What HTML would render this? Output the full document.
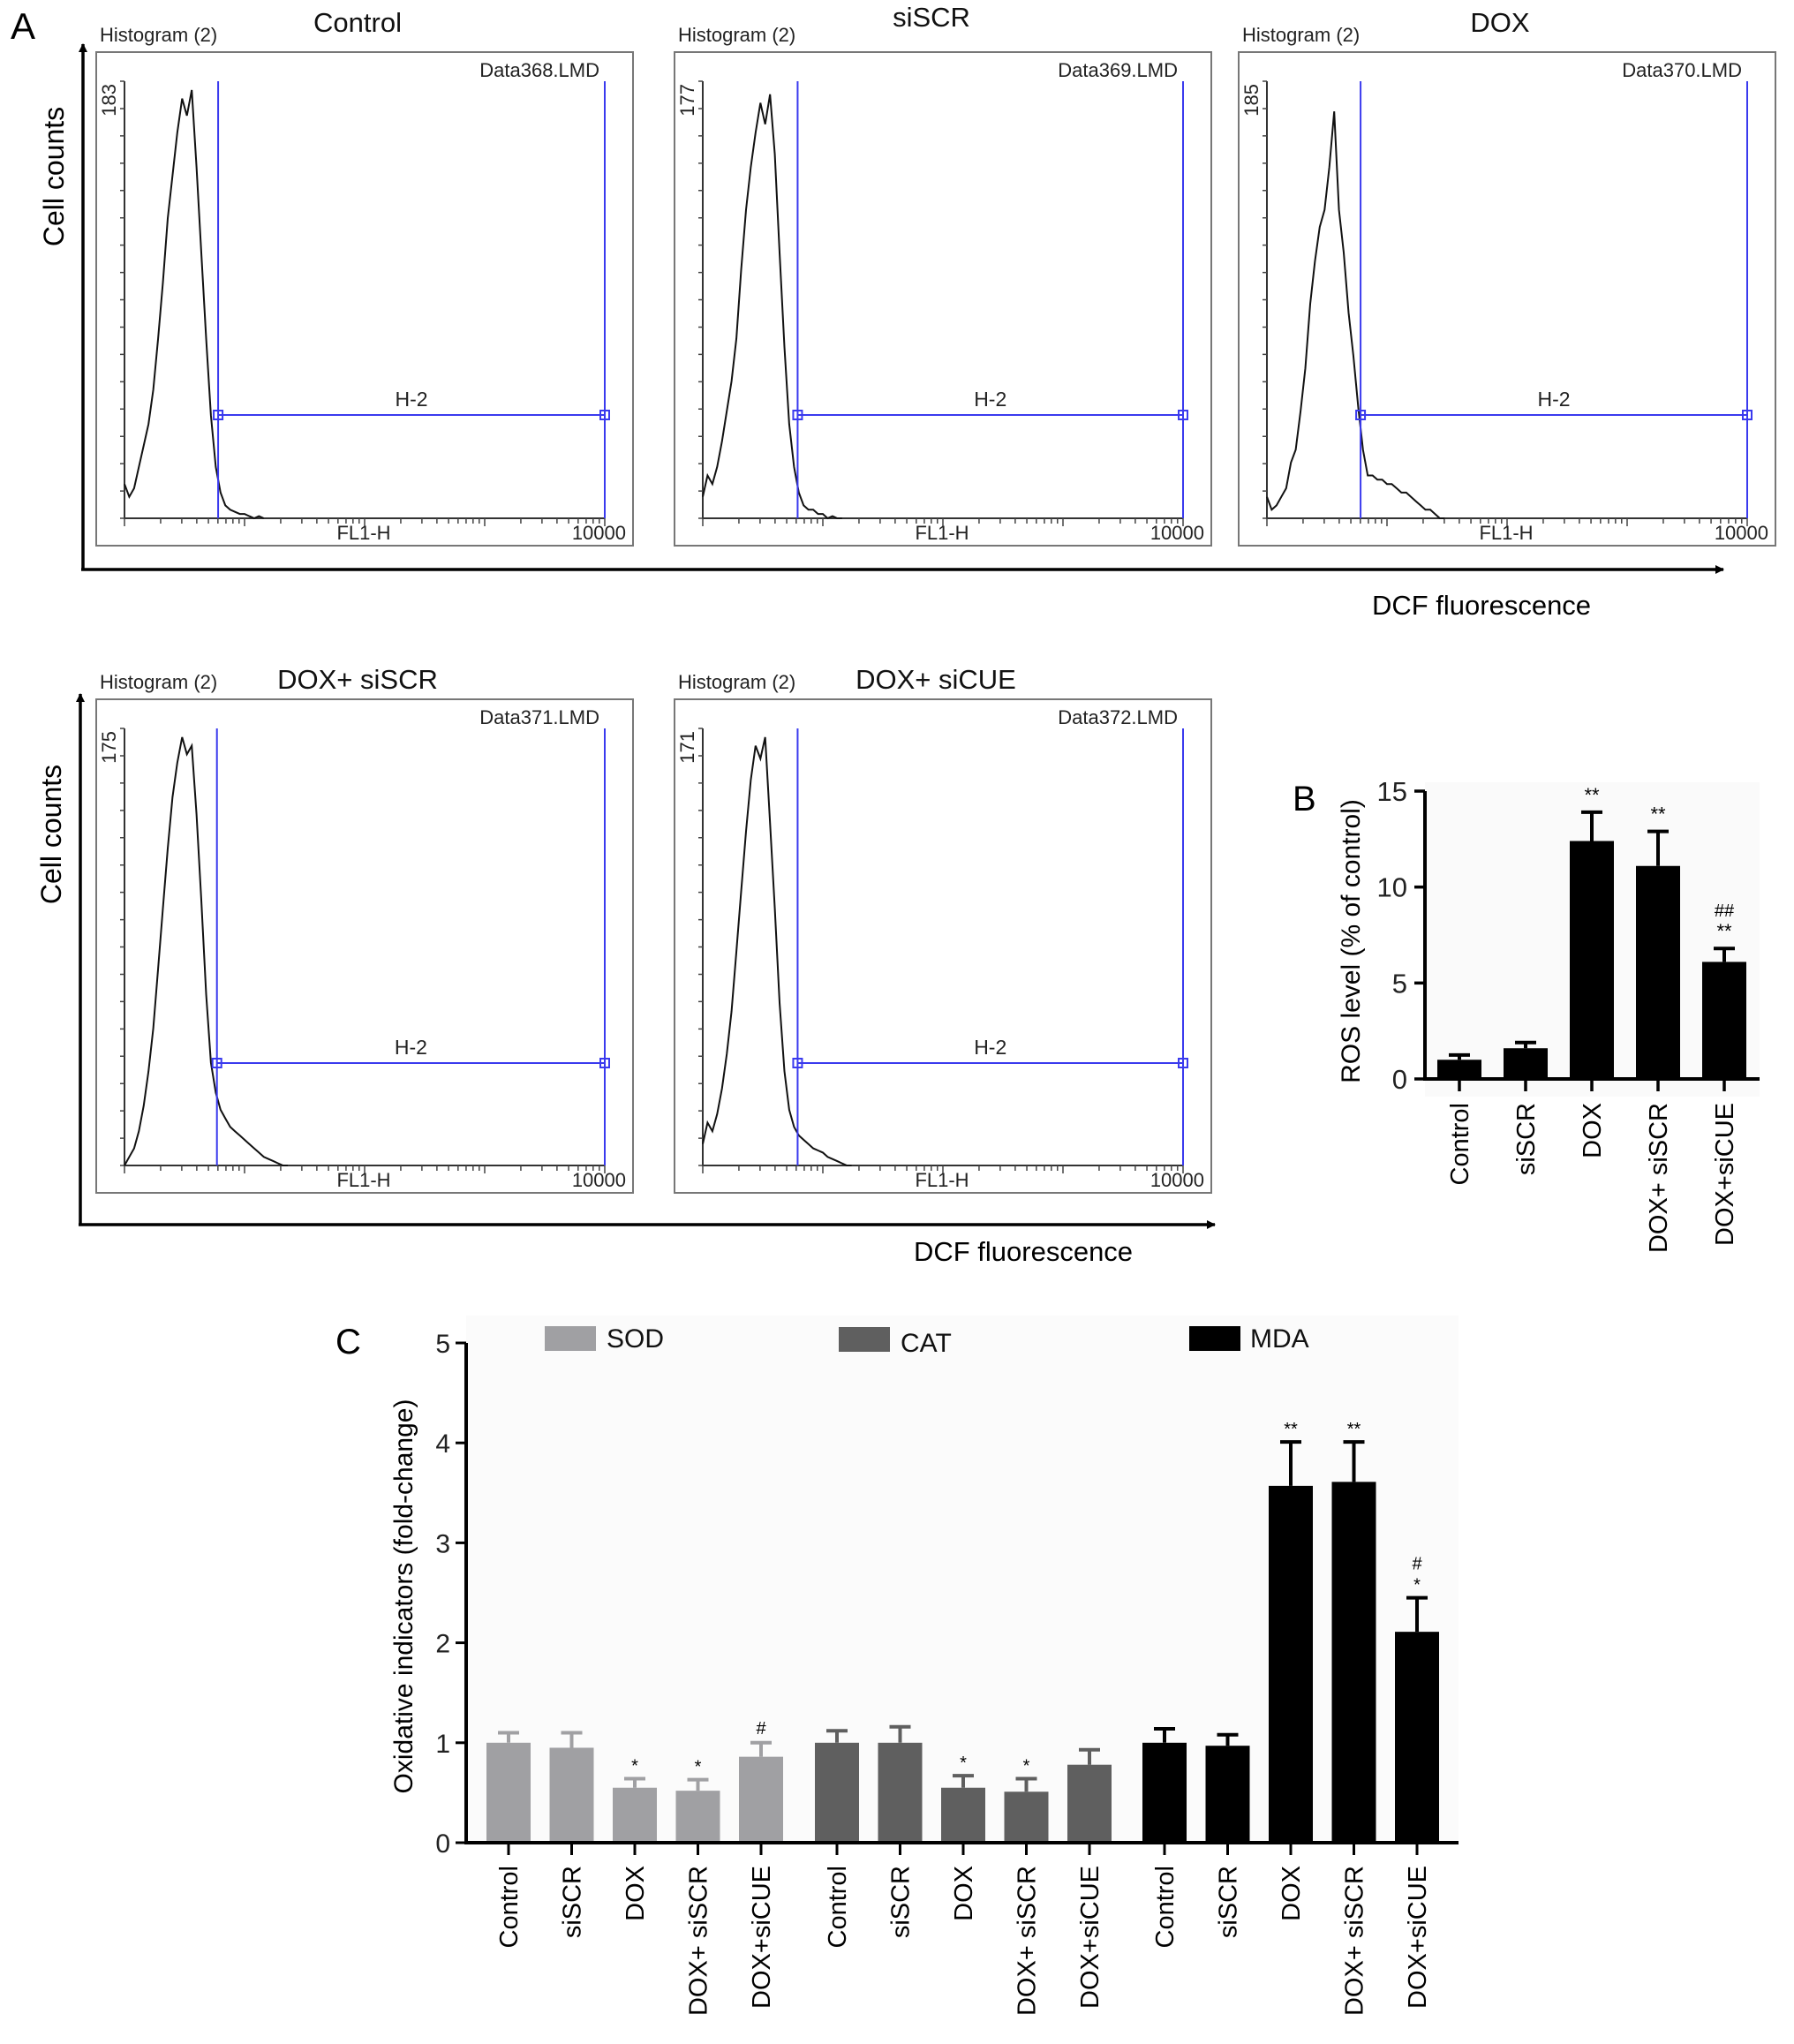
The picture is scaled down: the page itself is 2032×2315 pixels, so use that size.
<!DOCTYPE html>
<html><head><meta charset="utf-8">
<style>
html,body{margin:0;padding:0;background:#fff;}
svg{display:block;font-family:"Liberation Sans",Arial,sans-serif;}
</style></head>
<body>
<svg id="fig" width="2032" height="2315" viewBox="0 0 2032 2315" xmlns="http://www.w3.org/2000/svg">
<rect x="0" y="0" width="2032" height="2315" fill="#fff"/>
<defs>
<marker id="arr" markerWidth="10" markerHeight="10" refX="9" refY="5" orient="auto" markerUnits="userSpaceOnUse" viewBox="0 0 10 10">
<path d="M0,0 L10,5 L0,10 z" fill="#000"/></marker>
</defs>
<g id="panelA"></g>
<g id="panelB"></g>
<g id="panelC"></g>
</svg>
<script>
// ---------- Panel A data ----------
var histTitles = ["Control","siSCR","DOX","DOX+ siSCR","DOX+ siCUE"];
var histFiles = ["Data368.LMD","Data369.LMD","Data370.LMD","Data371.LMD","Data372.LMD"];
var histMax = [183,177,185,175,171];
var histStep = 0.04; // decade step of bins
var histControl = [0.08,0.05,0.07,0.12,0.17,0.22,0.3,0.42,0.55,0.7,0.8,0.9,0.98,0.94,1.0,0.82,0.62,0.42,0.24,0.12,0.06,0.03,0.02,0.015,0.01,0.01,0.005,0.0,0.005,0.0];
var histSiSCR = [0.05,0.1,0.08,0.12,0.18,0.25,0.32,0.42,0.58,0.72,0.82,0.9,0.97,0.92,0.99,0.85,0.62,0.4,0.22,0.12,0.06,0.03,0.02,0.02,0.01,0.01,0.0,0.005,0.0,0.0];
var histDOX = [0.05,0.02,0.03,0.05,0.07,0.13,0.16,0.25,0.35,0.5,0.6,0.68,0.72,0.82,0.95,0.72,0.62,0.48,0.38,0.26,0.16,0.1,0.1,0.09,0.09,0.08,0.08,0.07,0.06,0.06,0.05,0.04,0.03,0.02,0.02,0.01,0.0,0.0];
var histDoxSiSCR = [0.0,0.02,0.04,0.08,0.14,0.22,0.32,0.46,0.6,0.74,0.86,0.94,1.0,0.96,0.98,0.82,0.62,0.4,0.24,0.17,0.13,0.11,0.09,0.08,0.07,0.06,0.05,0.04,0.03,0.02,0.015,0.01,0.005,0.0,0.0];
var histDoxSiCUE = [0.05,0.1,0.08,0.12,0.18,0.26,0.36,0.5,0.64,0.78,0.9,0.98,0.95,1.0,0.8,0.6,0.38,0.22,0.13,0.09,0.07,0.06,0.05,0.04,0.035,0.03,0.02,0.015,0.01,0.005,0.0,0.0];
var histSeries = [histControl,histSiSCR,histDOX,histDoxSiSCR,histDoxSiCUE];
var gateStart = [0.78,0.79,0.78,0.77,0.79];

// ---------- Panel B data ----------
var rosCats = ["Control","siSCR","DOX","DOX+ siSCR","DOX+siCUE"];
var rosVals = [1.0,1.6,12.4,11.1,6.1];
var rosErr = [0.25,0.3,1.5,1.8,0.7];
var rosSig = ["","","**","**","**"];
var rosSig2 = ["","","","","##"];
var rosTicks = [0,5,10,15];

// ---------- Panel C data ----------
var oxCats = ["Control","siSCR","DOX","DOX+ siSCR","DOX+siCUE"];
var sodVals = [1.0,0.95,0.55,0.52,0.86];
var sodErr = [0.1,0.15,0.09,0.11,0.14];
var catVals = [1.0,1.0,0.55,0.51,0.78];
var catErr = [0.12,0.16,0.12,0.13,0.15];
var mdaVals = [1.0,0.97,3.57,3.61,2.11];
var mdaErr = [0.14,0.11,0.44,0.4,0.34];
var sodSig = ["","","*","*","#"];
var catSig = ["","","*","*",""];
var mdaSig = ["","","**","**","*"];
var mdaSig2 = ["","","","","#"];
var oxTicks = [0,1,2,3,4,5];

var NS="http://www.w3.org/2000/svg";
function mk(parent,tag,attrs,text){
  var e=document.createElementNS(NS,tag);
  for(var k in attrs) e.setAttribute(k,attrs[k]);
  if(text!==undefined) e.textContent=text;
  parent.appendChild(e); return e;
}

// ================= Panel A =================
var A=document.getElementById('panelA');
var tA=mk(A,'text',{x:12,y:44,'font-size':42},'A');



var boxes=[{x:109,y:59},{x:764,y:59},{x:1403,y:59},{x:109,y:792},{x:764,y:792}];
var titleY=[36,30,36,780,780];
var boxW=608, boxH=559;
for(var i=0;i<5;i++){
  var b=boxes[i];
  var g=mk(A,'g',{});
  
  
  var r=mk(g,'rect',{x:b.x,y:b.y,width:boxW,height:boxH,fill:'none',stroke:'#777','stroke-width':2});
  
  
  var t1=mk(g,'text',{x:b.x+4,y:b.y-12,'font-size':22,fill:'#222'},'Histogram (2)');
  
  
  var t2=mk(g,'text',{x:b.x+296+(i==1?-5:0),y:titleY[i],'font-size':31,'text-anchor':'middle',fill:'#111'},histTitles[i]);
  
  
  var t3=mk(g,'text',{x:b.x+570,y:b.y+28,'font-size':22,'text-anchor':'end',fill:'#222'},histFiles[i]);
  
  
  var x0=b.x+32, x1=b.x+576, yTop=b.y+33, yBot=b.y+528;
  var dec=(x1-x0)/4;
  var ax=mk(g,'path',{d:'M'+x0+','+yTop+' L'+x0+','+yBot+' L'+x1+','+yBot,fill:'none',stroke:'#333','stroke-width':2});
  
  
  var tk='';
  for(var k=0;k<=16;k++){var yy=yBot-(yBot-yTop)*k/16; tk+='M'+x0+','+yy+' l-5,0 ';}
  for(var d=0;d<4;d++){for(var m=1;m<=9;m++){var xx=x0+dec*(d+Math.log10(m)); tk+='M'+xx+','+yBot+' l0,'+(m==1?9:6)+' ';}}
  tk+='M'+x1+','+yBot+' l0,9';
  mk(g,'path',{d:tk,stroke:'#444','stroke-width':1.5,fill:'none'});
  var t4=mk(g,'text',{x:0,y:0,'font-size':22,'text-anchor':'end',fill:'#222',transform:'translate('+(b.x+22)+','+(yTop+3)+') rotate(-90)'},String(histMax[i]));
  
  
  var t5=mk(g,'text',{x:b.x+303,y:b.y+552,'font-size':22,'text-anchor':'middle',fill:'#222'},'FL1-H');
  
  
  var t6=mk(g,'text',{x:b.x+600,y:b.y+552,'font-size':22,'text-anchor':'end',fill:'#222'},'10000');
  
  
  var s=histSeries[i], dpath='';
  for(var j=0;j<s.length;j++){
    var px=x0+dec*(j*histStep), py=yBot-(yBot-yTop)*s[j]*0.98;
    dpath+=(j?'L':'M')+px.toFixed(1)+','+py.toFixed(1)+' ';
  }
  var hp=mk(g,'path',{d:dpath,fill:'none',stroke:'#111','stroke-width':2});
  
  
  var gx=x0+dec*gateStart[i];
  var gy = i<3 ? b.y+411 : b.y+412;
  var gp=mk(g,'path',{d:'M'+gx+','+yTop+' L'+gx+','+yBot+' M'+x1+','+yTop+' L'+x1+','+yBot+' M'+gx+','+gy+' L'+x1+','+gy,stroke:'#3a3aee','stroke-width':2,fill:'none'});
  
  
  mk(g,'rect',{x:gx-5,y:gy-5,width:10,height:10,fill:'none',stroke:'#3a3aee','stroke-width':2});
  mk(g,'rect',{x:x1-5,y:gy-5,width:10,height:10,fill:'none',stroke:'#3a3aee','stroke-width':2});
  var t7=mk(g,'text',{x:(gx+x1)/2,y:gy-10,'font-size':23,'text-anchor':'middle',fill:'#222'},'H-2');
  
  
}
var bigAx=[{x:94,yb:645,yt:50,xr:1952,ly:200,tx:1678,ty:696},{x:91,yb:1387,yt:786,xr:1376,ly:945,tx:1159,ty:1428}];
for(var i=0;i<2;i++){
  var q=bigAx[i];
  var v=mk(A,'line',{x1:q.x,y1:q.yb,x2:q.x,y2:q.yt,stroke:'#000','stroke-width':3.5,'marker-end':'url(#arr)'});
  
  
  var h=mk(A,'line',{x1:q.x-2,y1:q.yb,x2:q.xr,y2:q.yb,stroke:'#000','stroke-width':3.5,'marker-end':'url(#arr)'});
  
  
  var ct=mk(A,'text',{x:0,y:0,'font-size':32,'text-anchor':'middle',transform:'translate('+(q.x-22)+','+q.ly+') rotate(-90)'},'Cell counts');
  
  
  var dt=mk(A,'text',{x:q.tx,y:q.ty,'font-size':31,'text-anchor':'middle'},'DCF fluorescence');
  
  
}

// ================= Panel B =================
var B=document.getElementById('panelB');
var bL=1614, bR=1993, b0=1222, bTopY=896, bMax=15;
function by(v){return b0-(b0-bTopY)*v/bMax;}
var bCenters=[1653,1728,1803,1878,1953];
var tB=mk(B,'text',{x:1464,y:918,'font-size':40},'B');


mk(B,'rect',{x:bL,y:bTopY-10,width:bR-bL,height:b0-bTopY+30,fill:'#fafafa'});
for(var i=0;i<rosVals.length;i++){
  var cx=bCenters[i], w=50, yBarTop=by(rosVals[i]), et=by(rosVals[i]+rosErr[i]);
  var eb=mk(B,'path',{d:'M'+cx+','+yBarTop+' L'+cx+','+et+' M'+(cx-12)+','+et+' L'+(cx+12)+','+et,stroke:'#000','stroke-width':4});
  
  
  var bar=mk(B,'rect',{x:cx-w/2,y:yBarTop,width:w,height:b0-yBarTop,fill:'#000'});
  
  
  if(rosSig[i]){var st=mk(B,'text',{x:cx,y:et-12,'font-size':22,'text-anchor':'middle'},rosSig[i]);
    
    }
  if(rosSig2[i]){var s2=mk(B,'text',{x:cx,y:et-36,'font-size':20,'text-anchor':'middle'},rosSig2[i]);
    
    }
  mk(B,'line',{x1:cx,y1:b0,x2:cx,y2:b0+14,stroke:'#000','stroke-width':3.5});
  var xl=mk(B,'text',{x:0,y:0,'font-size':29,'text-anchor':'end',transform:'translate('+(cx+10)+','+(b0+27)+') rotate(-90)'},rosCats[i]);
  
  
}
mk(B,'path',{d:'M'+bL+','+(bTopY)+' L'+bL+','+b0+' L'+bR+','+b0,fill:'none',stroke:'#000','stroke-width':4});
for(var i=0;i<rosTicks.length;i++){
  var yy=by(rosTicks[i]);
  mk(B,'line',{x1:bL-12,y1:yy,x2:bL,y2:yy,stroke:'#000','stroke-width':3.5});
  var tl=mk(B,'text',{x:bL-20,y:yy+11,'font-size':31,'text-anchor':'end',fill:'#222'},String(rosTicks[i]));
  
  
}
var byt=mk(B,'text',{x:0,y:0,'font-size':30,'text-anchor':'middle',transform:'translate(1540,1066) rotate(-90)'},'ROS level (% of control)');



// ================= Panel C =================
var C=document.getElementById('panelC');
var cL=528, cR=1652, c0=2087, cTopY=1521, cMax=5;
function cy(v){return c0-(c0-cTopY)*v/cMax;}
var groupStart=[576,948,1319];
var barStep=71.5;
var tC=mk(C,'text',{x:380,y:1533,'font-size':40},'C');


mk(C,'rect',{x:cL,y:1490,width:cR-cL,height:c0-1490,fill:'#fbfbfb'});
var groups=[{v:sodVals,e:sodErr,s:sodSig,s2:null,c:'#a0a0a3',n:'sod'},{v:catVals,e:catErr,s:catSig,s2:null,c:'#5f5f5f',n:'cat'},{v:mdaVals,e:mdaErr,s:mdaSig,s2:mdaSig2,c:'#000',n:'mda'}];
for(var gI=0;gI<3;gI++){
  var G=groups[gI];
  for(var i=0;i<G.v.length;i++){
    var cx=groupStart[gI]+i*barStep, w=50, yBarTop=cy(G.v[i]), et=cy(G.v[i]+G.e[i]);
    var eb=mk(C,'path',{d:'M'+cx+','+yBarTop+' L'+cx+','+et+' M'+(cx-12)+','+et+' L'+(cx+12)+','+et,stroke:G.c,'stroke-width':4});
    
    
    var bar=mk(C,'rect',{x:cx-w/2,y:yBarTop,width:w,height:c0-yBarTop,fill:G.c});
    
    
    if(G.s[i]){var st=mk(C,'text',{x:cx,y:et-(G.s[i]=='#'?10:8),'font-size':20,'text-anchor':'middle'},G.s[i]);
      
      }
    if(G.s2 && G.s2[i]){var s2=mk(C,'text',{x:cx,y:et-32,'font-size':20,'text-anchor':'middle'},G.s2[i]);
      
      }
    mk(C,'line',{x1:cx,y1:c0,x2:cx,y2:c0+14,stroke:'#000','stroke-width':3});
    var xl=mk(C,'text',{x:0,y:0,'font-size':29,'text-anchor':'end',transform:'translate('+(cx+10)+','+(c0+26)+') rotate(-90)'},oxCats[i]);
    
    
  }
}
mk(C,'path',{d:'M'+cL+','+cTopY+' L'+cL+','+c0+' L'+cR+','+c0,fill:'none',stroke:'#000','stroke-width':4});
for(var i=0;i<oxTicks.length;i++){
  var yy=cy(oxTicks[i]);
  mk(C,'line',{x1:cL-12,y1:yy,x2:cL,y2:yy,stroke:'#000','stroke-width':3});
  var tl=mk(C,'text',{x:cL-18,y:yy+11,'font-size':30,'text-anchor':'end',fill:'#222'},String(oxTicks[i]));
  
  
}
var cyt=mk(C,'text',{x:0,y:0,'font-size':30,'text-anchor':'middle',transform:'translate(467,1808) rotate(-90)'},'Oxidative indicators (fold-change)');


var legX=[617,950,1347], legTX=[687,1020,1416], legY=[1502,1503,1502], legN=['SOD','CAT','MDA'];
for(var i=0;i<3;i++){
  var lg=mk(C,'g',{});
  
  
  mk(lg,'rect',{x:legX[i],y:legY[i],width:58,height:28,fill:groups[i].c});
  mk(lg,'text',{x:legTX[i],y:legY[i]+24+(i==1?4:0),'font-size':30,fill:'#111'},legN[i]);
}
</script>
</body></html>
